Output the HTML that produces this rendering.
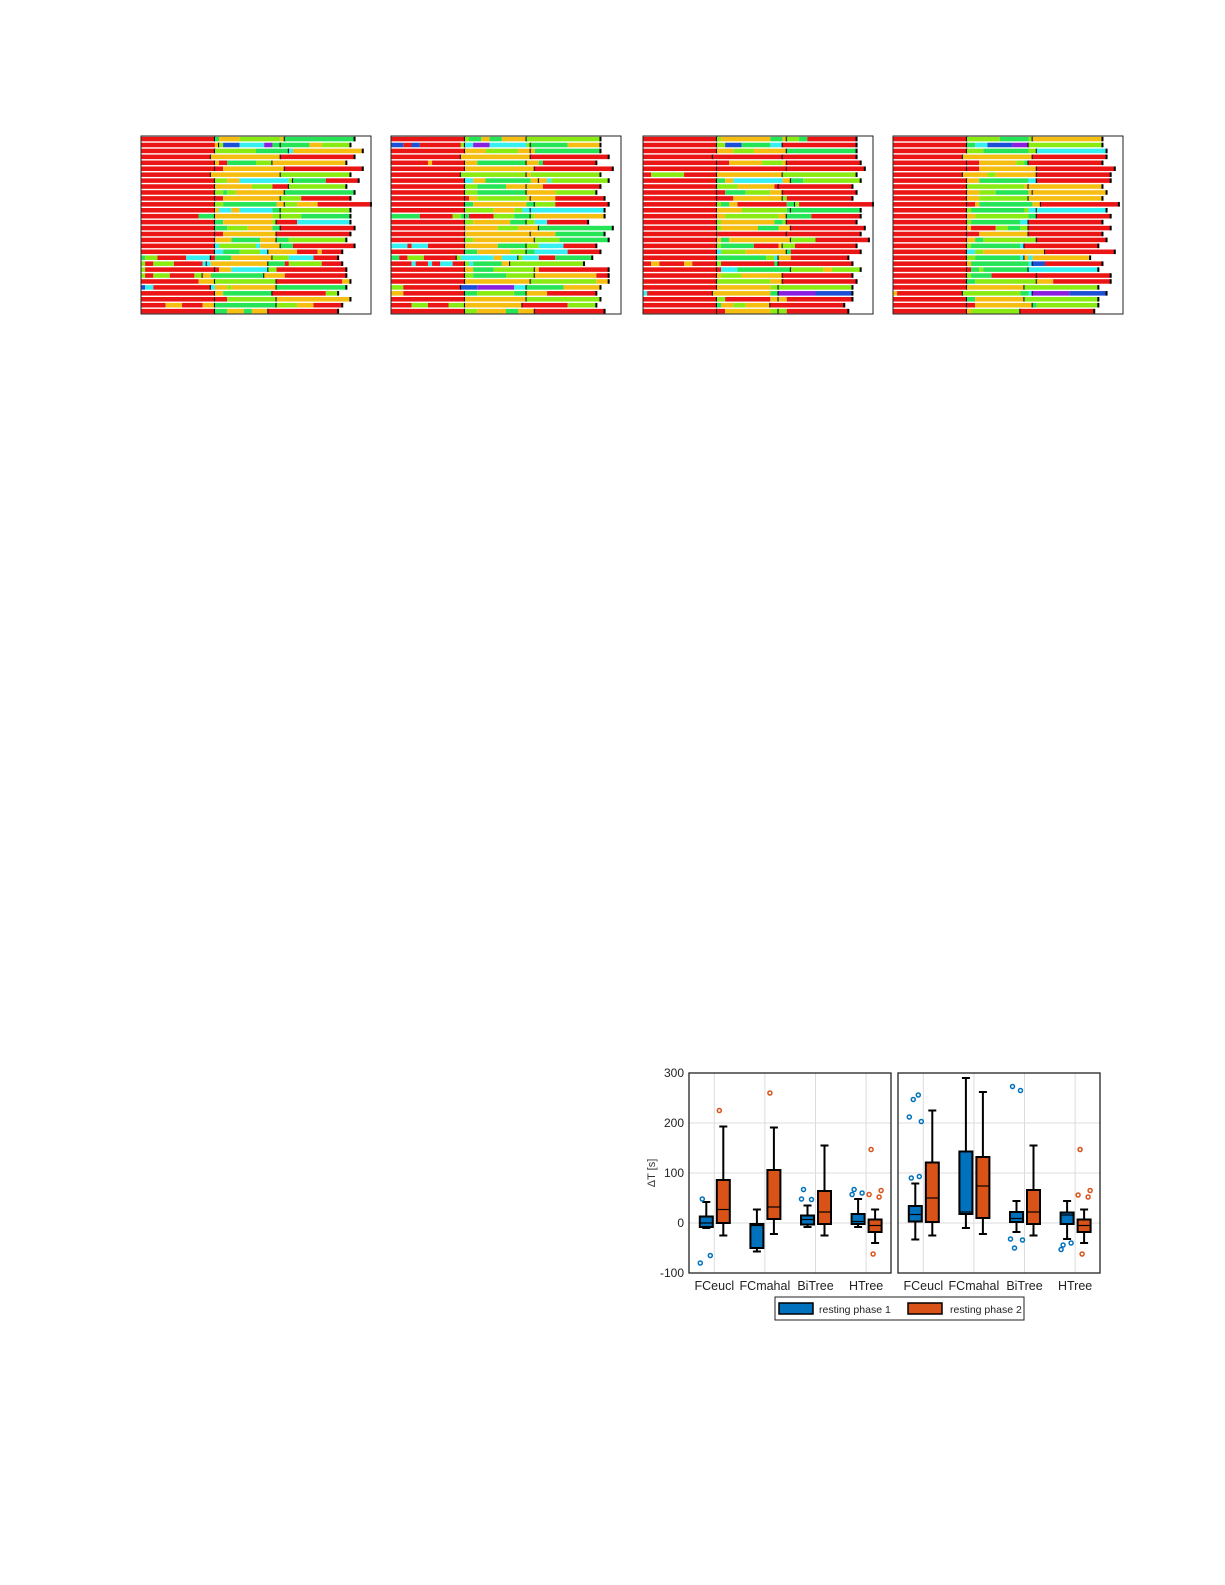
<!DOCTYPE html>
<html><head><meta charset="utf-8"><style>
body{margin:0;background:#fff;width:1225px;height:1585px;overflow:hidden;font-family:"Liberation Sans",sans-serif}
svg{position:absolute;left:0;top:0}
</style></head><body>
<svg id="topsvg" width="1225" height="330"></svg>
<svg id="boxsvg" width="1225" height="1585" style="pointer-events:none"></svg>
<script>
const NS="http://www.w3.org/2000/svg";
function mk(parent,tag,attrs){const e=document.createElementNS(NS,tag);for(const k in attrs)e.setAttribute(k,attrs[k]);parent.appendChild(e);return e;}
const colorMap={R:"#ec1515",Y:"#f7be12",G:"#25e455",L:"#8aeb12",C:"#36eff0",B:"#1b4fd5",P:"#8a1fe0"};
const panel1=["R18|G1Y5L10Y1|G17|","R18Y1|L1B4C6P2G2|G7Y3L7|","R18|L10G8|C1Y17|","R17|Y17|R18|","R18|Y1R2G7L4|Y18|","R18|R2Y15|R19|","R17|Y17|L17|","R18|L3Y3C12L1|G8R8|","R18|Y9L5R4|L14|","R18|L2G1L2Y12|G17|","R18|R2Y14|L5R12|","R18|L2G13Y2|L3Y5R13|","R18|Y1C3Y2C8G2|L17|","R14G4|Y14L2|L5G12|","R18|G2Y12L1|R5C13|","R18|G3L5Y6G2|R18|","R18|R2Y13|R18|","R18|Y4G7Y4|G3L14|","R18|C1L9C1Y5|G3R15|","R18|C2G4L5C2|Y7R5Y1R5|","G1L3R7C6|R1G4Y10|L4C6R6|","L1R2L5R7C1|C1Y14|G4R1L8R5|","L1R17|R1Y3C9|L2R17|","L1R2L4R6L2|Y2G13|Y5R15|","R14Y4|L15|R16Y2|","B1C2R14|C1Y3L1Y11|G17|","R18|Y2G12|R13L3|","R18|R3L12|Y18|","R6Y4R5Y3|G15|L5Y4R7|","R18|G3Y4G2Y4|R17|"];
const panel2=["R18|L1G3Y2G3Y6|L18|","B3R2B2R10L1|C2P4C9L1|G9Y8|","R18|Y5L8Y3|Y1G16|","R17|Y17|R19|","R9Y1R8|Y3G12|Y3G1R13|","R18|Y17|R19|","R17|L16|Y1L17|","R18|C2Y3G11Y2|Y2C1L14|","R18|L3G7Y5|Y4R14|","R18|L3G12|Y7L10|","R18|R1Y2L12Y1|Y6R12|","R18|G2Y13G2|L5R13|","R18|L7Y5L2C2|C18|","G7R8L2G1|G1R6L5G4|L1Y17|","R18|L2Y9G4|L2C3R10|","R18|Y8L5Y5|G18|","R18|Y16|Y6G12|","R18|L2Y15|L6G12|","C4R1C4R9|Y8G7|L3C6R8|","R18|G3Y8L4|G2C8R8|","G2R2L4R8|L1C8Y2C4|L1C4R4G9|","R5C1R3C1R2C3R3|L1C1G7Y2|L18|","R18|Y2G5L10|Y1R17|","R18|L2G8L7|Y15R3|","R18|Y16|L16Y3|","L3R14|B4P9C3|G9Y9|","Y3R15|G3L9G3|Y5R12|","R18|Y15|L18|","R5L4R5L4|Y14|R11L7|","R18|L3Y7G3Y4|R17|"];
const panel3=["R18|L1Y12G3Y1|L3G2R12|","R18|L2B4G7C3|R18|","R18|Y4L5Y8|G17|","R17|R17|R18|","R18|R3Y8L5Y1|R18|","R18|R17|R19|","R2L8R8|Y16|L18|","R18|G2Y2C12Y2|G3L14|","R18|L5Y9R1|R18|","R18|R2G5L6Y3|R18|","R18|R4Y12|L1R16|","R18|L1G2Y2R12G2|L1R18|","R18|Y6L11G1|G17|","R18|Y2L13Y2|G6R12|","R18|L1Y13G2L1|R17|","R18|L1Y9G5Y3|R18|","R18|R17|R18|","R18|Y1G2Y15|L6R13|","R18|L1G8R6Y1|L3R15|","R18|C1L6Y10|G1R17|","R18|G12L2C1|Y3R14|","R2Y2R6Y2R6|L1R13G1|R18|","R18|R1C4G13|L8Y2L7|","R18|Y1L5Y10|R17|","R18|L13Y3|R18|","R18|Y13L2|L18|","C1R16|Y14G2|P9B9|","R18|L2R11Y2|Y2R16|","R18|G1Y3L3Y6|R18|","R18|R2Y11L2|L2R15|"];
const panel4=["R18|L8G7L1|Y17|","R18|G2C3B6P4|L18|","R18|L4G11L2|C17|","R17|Y17|R18|","R18|R3Y9L2G1|R18|","R18|R3Y14|R19|","R17|Y6L2Y10|R18|","R18|Y3G12C2|R18|","R18|L14Y1|Y18|","R18|Y3L4G8Y1|Y18|","R18|Y3L12|Y18|","R18|R2Y1G13Y2|R19|","R18|L1G13L1C2|C17|","R18|Y2L13G2|R18|","R18|L1G12C2|R18|","R18|Y1R6L3G3L2|R20|","R18|R3Y12|R18|","R18|Y2G2L13|R17|","R18|L1G12C1|R18|","R18|C2L2Y15|R17|","R18|L2G11C1|Y1C1Y14|","R18|Y1G14C1|B3R14|","R18|R1G2L1G11|C17|","R18|L1G5R11|R18|","R18|G2L15|Y4R14|","R18|Y14|L18|","Y1R16|L14G2C1|P9B9|","R18|G2Y12|L18|","R18|R2Y14|G1L15|","R18|Y1L12|R18|"];
const panels=[panel1,panel2,panel3,panel4];
const panelLefts=[141,391,643,893];
const topSvg=document.getElementById('topsvg');
panels.forEach((rows,pi)=>{
  const x0=panelLefts[pi],y0=136,PW=230,PH=178,unit=PW/56,pitch=PH/30;
  const g=mk(topSvg,'g',{});
  
  
  rows.slice(0,30).forEach((s,ri)=>{
    const y=y0+ri*pitch+0.8;let u=0;
    const re=/([A-Z])(\d+)|\|/g;let m;
    while((m=re.exec(s))){
      if(m[0]==='|'){const t=mk(g,'rect',{x:x0+u*unit-1,y:y,width:2,height:pitch-1.4,fill:'#000'});
        
        }
      else{const n=+m[2];const r=mk(g,'rect',{x:x0+u*unit,y:y,width:n*unit,height:pitch-1.4,fill:colorMap[m[1]]});
        
        u+=n;}
    }
  });
  const f=mk(g,'rect',{x:x0,y:y0,width:PW,height:PH,fill:'none',stroke:'#222','stroke-width':1});
  
  
});

// boxplot data
const categories=["FCeucl","FCmahal","BiTree","HTree"];
const yTicks=[300,200,100,0,-100];
const leftPhase1=[[-10,-8,0,13,42],[-57,-50,-5,-2,27],[-8,-3,7,15,35],[-8,-2,3,18,48]];
const leftPhase2=[[-25,0,27,86,193],[-22,8,32,106,191],[-25,-2,22,64,155],[-40,-18,-5,7,27]];
const leftOut1=[[48,-65,-80],[],[67,47,48],[67,60,57]];
const leftOut2=[[225],[260],[],[147,52,57,65,-62]];
const rightPhase1=[[-33,3,17,34,79],[-10,18,22,143,290],[-18,2,9,22,44],[-32,-2,16,21,44]];
const rightPhase2=[[-25,2,50,121,225],[-22,10,74,132,262],[-25,-2,22,66,155],[-40,-18,-5,7,27]];
const rightOut1=[[90,93,212,203,247,256],[],[273,265,-32,-34,-50],[-44,-40,-53]];
const rightOut2=[[],[],[],[147,52,56,65,-62]];
const jitter=[-4,4,-6,6,-2,3];
const boxSvg=document.getElementById('boxsvg');
const yS=v=>1223-v*0.5;
const panelsB=[{x0:689,d1:leftPhase1,d2:leftPhase2,o1:leftOut1,o2:leftOut2,n:'left'},{x0:898,d1:rightPhase1,d2:rightPhase2,o1:rightOut1,o2:rightOut2,n:'right'}];
const BW=202;
panelsB.forEach(p=>{
  const g=mk(boxSvg,'g',{});
  
  
  const xS=i=>p.x0+25.3+50.6*i;
  yTicks.forEach(t=>{const l=mk(g,'line',{x1:p.x0,x2:p.x0+BW,y1:yS(t),y2:yS(t),stroke:'#dcdcdc'});
    
    });
  categories.forEach((c,i)=>{const l=mk(g,'line',{x1:xS(i),x2:xS(i),y1:yS(300),y2:yS(-100),stroke:'#dcdcdc'});
    
    
    const t=mk(g,'text',{x:xS(i),y:1290,'text-anchor':'middle','font-size':12.5,fill:'#222'});t.textContent=c;
    
    });
  [[p.d1,p.o1,'#0072bd',-8],[p.d2,p.o2,'#d95319',9]].forEach(([d,o,col,off],si)=>{
    d.forEach((s,i)=>{
      const cx=xS(i)+off;const bw=13;
      const w=mk(g,'line',{x1:cx,x2:cx,y1:yS(s[0]),y2:yS(s[4]),stroke:'#000','stroke-width':2});
      
      
      [s[0],s[4]].forEach(v=>{const cp=mk(g,'line',{x1:cx-4,x2:cx+4,y1:yS(v),y2:yS(v),stroke:'#000','stroke-width':2});
        
        });
      const r=mk(g,'rect',{x:cx-bw/2,y:yS(s[3]),width:bw,height:yS(s[1])-yS(s[3]),fill:col,stroke:'#000','stroke-width':2});
      
      
      const md=mk(g,'line',{x1:cx-bw/2,x2:cx+bw/2,y1:yS(s[2]),y2:yS(s[2]),stroke:'#000','stroke-width':1.2});
      
      
      o[i].forEach((v,k)=>{const c=mk(g,'circle',{cx:cx+jitter[k%jitter.length],cy:yS(v),r:2,fill:'none',stroke:col,'stroke-width':1.5});
        
        });
    });
  });
  const fr=mk(g,'rect',{x:p.x0,y:yS(300),width:BW,height:200,fill:'none',stroke:'#222','stroke-width':1.3});
  
  
});
yTicks.forEach(t=>{const tx=mk(boxSvg,'text',{x:684,y:yS(t)+4,'text-anchor':'end','font-size':12,fill:'#222'});tx.textContent=t;
  
  });
const yl=mk(boxSvg,'text',{x:655,y:1173,'text-anchor':'middle','font-size':11,fill:'#333',transform:'rotate(-90 655 1173)'});yl.textContent='ΔT [s]';


const lg=mk(boxSvg,'g',{});


mk(lg,'rect',{x:775,y:1297,width:249,height:23,fill:'#fff',stroke:'#222','stroke-width':1});
const p1=mk(lg,'rect',{x:779,y:1303,width:34,height:11,fill:'#0072bd',stroke:'#000','stroke-width':1.5});


const t1=mk(lg,'text',{x:819,y:1313,'font-size':10.5,fill:'#222'});t1.textContent='resting phase 1';
const p2=mk(lg,'rect',{x:908,y:1303,width:34,height:11,fill:'#d95319',stroke:'#000','stroke-width':1.5});


const t2=mk(lg,'text',{x:950,y:1313,'font-size':10.5,fill:'#222'});t2.textContent='resting phase 2';
</script>
</body></html>
